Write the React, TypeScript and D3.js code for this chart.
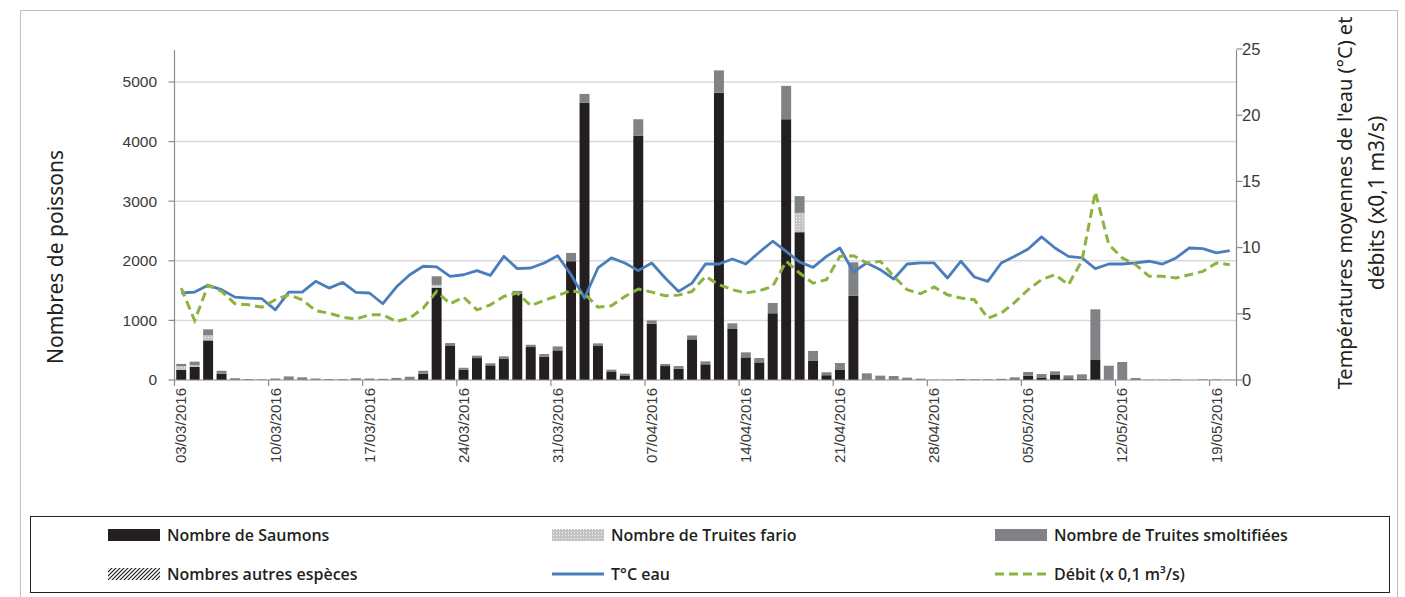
import React, { useEffect, useRef } from "react";
import * as d3 from "d3";

const startDate = new Date(2016, 2, 3);
const endDate = new Date(2016, 4, 21); // exclusive -> 79 days
const dates: Date[] = d3.timeDay.range(startDate, endDate);
const fmt = d3.timeFormat("%d/%m/%Y");

const saumons = [
  170, 218, 665, 105, 0, 0, 0, 0, 0, 0, 0, 0, 0, 0, 0, 0, 0, 0, 105, 1545,
  580, 170, 368, 246, 352, 1452, 553, 390, 497, 1993, 4650, 570, 134, 67, 4100, 943, 234, 190, 682, 263,
  4820, 856, 380, 296, 1120, 4375, 2480, 320, 80, 168, 1415, 0, 0, 0, 0, 0, 0, 0, 0, 0,
  0, 0, 0, 73, 34, 84, 28, 22, 336, 0, 0, 0, 0, 0, 0, 0, 0, 0, 0,
];
const truitesFario = [
  60, 30, 85, 0, 0, 0, 0, 0, 0, 0, 0, 0, 0, 0, 0, 0, 0, 0, 0, 50,
  0, 0, 0, 0, 0, 0, 0, 0, 0, 0, 0, 0, 0, 0, 0, 0, 0, 0, 0, 0,
  0, 0, 0, 0, 0, 0, 325, 0, 0, 0, 0, 0, 0, 0, 0, 0, 0, 0, 0, 0,
  0, 0, 0, 0, 0, 0, 0, 0, 0, 0, 0, 0, 0, 0, 0, 0, 0, 0, 0,
];
const truitesSmolt = [
  40, 60, 100, 50, 30, 15, 10, 25, 60, 45, 25, 15, 15, 30, 25, 20, 35, 55, 50, 145,
  40, 35, 40, 34, 45, 44, 38, 45, 67, 139, 150, 45, 39, 39, 275, 57, 34, 44, 66, 50,
  375, 95, 84, 73, 172, 560, 280, 168, 50, 117, 560, 112, 73, 67, 39, 22, 5, 5, 17, 12,
  12, 20, 45, 61, 66, 61, 50, 73, 850, 240, 302, 34, 5, 5, 10, 0, 10, 10, 5,
];
const autresEspeces = [
  0, 0, 0, 0, 0, 0, 0, 0, 0, 0, 0, 0, 0, 0, 0, 0, 0, 0, 0, 0,
  0, 0, 0, 0, 0, 0, 0, 0, 0, 0, 0, 0, 0, 0, 0, 0, 0, 0, 0, 0,
  0, 0, 0, 0, 0, 0, 0, 0, 0, 0, 0, 0, 0, 0, 0, 0, 0, 0, 0, 0,
  0, 0, 0, 0, 0, 0, 0, 0, 0, 0, 0, 0, 0, 0, 0, 0, 0, 0, 0,
];
const temperature = [
  6.57, 6.64, 7.15, 6.82, 6.26, 6.19, 6.14, 5.3, 6.64, 6.64, 7.45, 6.94, 7.37, 6.62, 6.57, 5.76, 7.02, 7.95, 8.59, 8.54,
  7.83, 7.95, 8.26, 7.9, 9.34, 8.41, 8.46, 8.84, 9.39, 7.95, 6.19, 8.46, 9.22, 8.84, 8.26, 8.84, 7.7, 6.69, 7.32, 8.76,
  8.76, 9.14, 8.76, 9.65, 10.48, 9.72, 8.91, 8.51, 9.34, 9.97, 8.16, 8.84, 8.33, 7.63, 8.76, 8.84, 8.84, 7.7, 8.97, 7.78,
  7.45, 8.84, 9.34, 9.9, 10.81, 9.97, 9.34, 9.22, 8.41, 8.76, 8.76, 8.84, 8.97, 8.76, 9.22, 9.97, 9.92, 9.6, 9.77,
];
const debit = [
  6.94, 4.49, 7.15, 6.69, 5.76, 5.68, 5.5, 6.06, 6.44, 6.06, 5.23, 5.05, 4.75, 4.6, 4.92, 4.92, 4.42, 4.67, 5.43, 6.69,
  5.76, 6.26, 5.3, 5.68, 6.31, 6.57, 5.61, 6.01, 6.36, 6.77, 6.52, 5.5, 5.61, 6.31, 6.87, 6.64, 6.36, 6.41, 6.69, 7.83,
  7.2, 6.82, 6.57, 6.74, 7.07, 8.97, 8.08, 7.32, 7.58, 9.34, 9.39, 8.84, 8.97, 7.83, 6.82, 6.52, 7.02, 6.44, 6.19, 6.06,
  4.67, 5.05, 5.86, 6.82, 7.58, 7.95, 7.2, 9.0, 14.2, 10.23, 9.22, 8.71, 7.83, 7.83, 7.7, 7.95, 8.2, 8.84, 8.71,
];
const leftTicks = [0, 1000, 2000, 3000, 4000, 5000];
const rightTicks = [0, 5, 10, 15, 20, 25];
const seriesKeys = ["saumons", "fario", "smolt", "autres"];
const legendLabels = [
  "Nombre de Saumons",
  "Nombre de Truites fario",
  "Nombre de Truites smoltifiées",
  "Nombres autres espèces",
  "T°C eau",
  "Débit (x 0,1 m³/s)",
];

const W = 1405;
const H = 597;
const plotL = 174.5;
const plotR = 1236.5;
const plotT = 50;
const plotB = 380;

const fills: Record<string, string> = {
  saumons: "#231f20",
  fario: "url(#pFario)",
  smolt: "#818285",
  autres: "url(#pAutres)",
};

export default function App() {
  const ref = useRef<SVGSVGElement>(null);

  useEffect(() => {
    const svg = d3.select(ref.current);
    svg.selectAll("*").remove();

    const defs = svg.append("defs");
    const pf = defs.append("pattern").attr("id", "pFario").attr("patternUnits", "userSpaceOnUse").attr("width", 3).attr("height", 3);
    pf.append("rect").attr("width", 3).attr("height", 3).attr("fill", "#c4c4c4");
    pf.append("rect").attr("x", 1).attr("y", 1).attr("width", 1).attr("height", 1).attr("fill", "#f2f2f2");
    const pa = defs.append("pattern").attr("id", "pAutres").attr("patternUnits", "userSpaceOnUse").attr("width", 4).attr("height", 4);
    pa.append("rect").attr("width", 4).attr("height", 4).attr("fill", "#ffffff");
    pa.append("path").attr("d", "M-1,1 l2,-2 M0,4 l4,-4 M3,5 l2,-2").attr("stroke", "#231f20").attr("stroke-width", 1.2);

    svg.append("rect").attr("x", 0).attr("y", 0).attr("width", W).attr("height", H).attr("fill", "#fff");
    // outer frame
    svg.append("rect").attr("x", 20.5).attr("y", 10.5).attr("width", 1377).attr("height", 600)
      .attr("fill", "none").attr("stroke", "#bfbfbf").attr("stroke-width", 1);

    const idx = dates.map((_, i) => i);
    const x = d3.scaleBand<number>().domain(idx).range([plotL, plotR]).paddingInner(0.26).paddingOuter(0.13);
    const xc = (i: number) => (x(i) as number) + x.bandwidth() / 2;
    const step = x.step();
    const yL = d3.scaleLinear().domain([0, 5000]).range([plotB, 82]);
    const yR = d3.scaleLinear().domain([0, 25]).range([plotB, 49]);

    // gridlines
    svg.append("g").selectAll("line").data(leftTicks.filter((t) => t > 0)).join("line")
      .attr("x1", plotL).attr("x2", plotR).attr("y1", (d) => yL(d)).attr("y2", (d) => yL(d))
      .attr("stroke", "#d9d9d9").attr("stroke-width", 1.5);

    // stacked bars
    const rows = idx.map((i) => ({
      i,
      saumons: saumons[i],
      fario: truitesFario[i],
      smolt: truitesSmolt[i],
      autres: autresEspeces[i],
    }));
    const stack = d3.stack<any>().keys(seriesKeys)(rows);
    const gb = svg.append("g");
    stack.forEach((layer) => {
      gb.append("g").selectAll("rect").data(layer).join("rect")
        .attr("x", (d: any) => x(d.data.i) as number)
        .attr("width", x.bandwidth())
        .attr("y", (d: any) => yL(d[1]))
        .attr("height", (d: any) => Math.max(0, yL(d[0]) - yL(d[1])))
        .attr("fill", fills[layer.key]);
    });

    // lines
    const line = d3.line<number>().x((_, i) => xc(i)).y((d) => yR(d));
    svg.append("path").attr("d", line(temperature) as string).attr("fill", "none")
      .attr("stroke", "#4a7ebb").attr("stroke-width", 2.8).attr("stroke-linejoin", "round");
    svg.append("path").attr("d", line(debit) as string).attr("fill", "none")
      .attr("stroke", "#8db33f").attr("stroke-width", 3).attr("stroke-dasharray", "9,5");

    // axes lines
    const axisColor = "#8c8c8c";
    svg.append("line").attr("x1", plotL).attr("x2", plotL).attr("y1", plotT).attr("y2", plotB).attr("stroke", axisColor).attr("stroke-width", 1.2);
    svg.append("line").attr("x1", plotR).attr("x2", plotR).attr("y1", plotT).attr("y2", plotB).attr("stroke", axisColor).attr("stroke-width", 1.2);
    svg.append("line").attr("x1", plotL).attr("x2", plotR).attr("y1", plotB).attr("y2", plotB).attr("stroke", axisColor).attr("stroke-width", 1.2);

    // left ticks
    const gl = svg.append("g");
    gl.selectAll("line").data(leftTicks).join("line")
      .attr("x1", plotL - 6).attr("x2", plotL).attr("y1", (d) => yL(d)).attr("y2", (d) => yL(d))
      .attr("stroke", axisColor).attr("stroke-width", 1.2);
    gl.selectAll("text").data(leftTicks).join("text")
      .attr("x", 157).attr("y", (d) => yL(d)).attr("dy", "0.35em").attr("text-anchor", "end")
      .attr("font-family", "Liberation Sans, Arial, sans-serif").attr("font-size", 15.5).attr("fill", "#3a3a3a")
      .text((d) => String(d));

    // right ticks
    const gr = svg.append("g");
    gr.selectAll("line").data(rightTicks).join("line")
      .attr("x1", plotR).attr("x2", plotR + 6).attr("y1", (d) => yR(d)).attr("y2", (d) => yR(d))
      .attr("stroke", axisColor).attr("stroke-width", 1.2);
    gr.selectAll("text").data(rightTicks).join("text")
      .attr("x", 1242).attr("y", (d) => yR(d)).attr("dy", "0.35em").attr("text-anchor", "start")
      .attr("font-family", "Liberation Sans, Arial, sans-serif").attr("font-size", 16.5).attr("fill", "#3a3a3a")
      .text((d) => String(d));

    // x ticks every 7 days
    const tickIdx = idx.filter((i) => i % 7 === 0);
    const gx = svg.append("g");
    gx.selectAll("line").data([...tickIdx, idx.length]).join("line")
      .attr("x1", (d) => plotL + d * step)
      .attr("x2", (d) => plotL + d * step)
      .attr("y1", plotB).attr("y2", plotB + 6)
      .attr("stroke", axisColor).attr("stroke-width", 1.2);
    gx.selectAll("text").data(tickIdx).join("text")
      .attr("transform", (d) => `translate(${xc(d)},${plotB + 8}) rotate(-90)`)
      .attr("dy", "0.35em").attr("text-anchor", "end")
      .attr("font-family", "Liberation Sans, Arial, sans-serif").attr("font-size", 15).attr("fill", "#3a3a3a")
      .text((d) => fmt(dates[d]));

    // axis titles
    svg.append("text").attr("transform", `translate(56,257) rotate(-90)`)
      .attr("text-anchor", "middle").attr("dy", "0.35em")
      .attr("font-family", "Noto Sans, sans-serif").attr("font-size", 21).attr("fill", "#231f20")
      .text("Nombres de poissons");
    svg.append("text").attr("transform", `translate(1345,203) rotate(-90)`)
      .attr("text-anchor", "middle").attr("dy", "0.35em")
      .attr("font-family", "Noto Sans, sans-serif").attr("font-size", 20).attr("fill", "#231f20")
      .text("Températures moyennes de l'eau (°C) et");
    svg.append("text").attr("transform", `translate(1377,203) rotate(-90)`)
      .attr("text-anchor", "middle").attr("dy", "0.35em")
      .attr("font-family", "Noto Sans, sans-serif").attr("font-size", 21).attr("fill", "#231f20")
      .text("débits (x0,1 m3/s)");

    // legend
    svg.append("rect").attr("x", 30.5).attr("y", 516.5).attr("width", 1359).attr("height", 76)
      .attr("fill", "#fff").attr("stroke", "#231f20").attr("stroke-width", 1);
    const colsX = [108, 552, 995];
    const rowsY = [535, 574];
    const lg = svg.append("g");
    legendLabels.forEach((lab, k) => {
      const cx = colsX[k % 3];
      const cy = rowsY[Math.floor(k / 3)];
      if (k < 4) {
        const key = seriesKeys[k];
        lg.append("rect").attr("x", cx).attr("y", cy - 6).attr("width", 52).attr("height", 12).attr("fill", fills[key]);
      } else if (k === 4) {
        lg.append("line").attr("x1", cx).attr("x2", cx + 52).attr("y1", cy).attr("y2", cy)
          .attr("stroke", "#4a7ebb").attr("stroke-width", 2.8);
      } else {
        lg.append("line").attr("x1", cx).attr("x2", cx + 52).attr("y1", cy).attr("y2", cy)
          .attr("stroke", "#8db33f").attr("stroke-width", 3).attr("stroke-dasharray", "9,5");
      }
      lg.append("text").attr("x", cx + 59).attr("y", cy).attr("dy", "0.35em")
        .attr("font-family", "Open Sans, sans-serif").attr("font-weight", 600).attr("font-size", 16)
        .attr("fill", "#231f20").text(lab);
    });
  }, []);

  return (
    <svg ref={ref} width={W} height={H} style={{ position: "absolute", left: 0, top: 0 }} />
  );
}
